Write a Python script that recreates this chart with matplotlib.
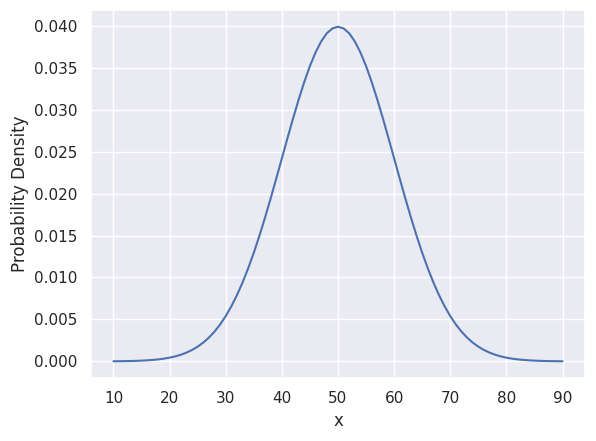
import matplotlib
matplotlib.use('Agg')
import matplotlib.pyplot as plt
import seaborn as sns

# values, one per unit of x (10 .. 90)
x = list(range(10, 91))
density = [
    0.0000134, 0.0000199, 0.0000292, 0.0000425, 0.0000612, 0.0000873, 0.000123, 0.000172,
    0.000238, 0.000327, 0.000443, 0.000595, 0.000792, 0.001042, 0.001358, 0.001753,
    0.002239, 0.002833, 0.003547, 0.004398, 0.005399, 0.006562, 0.007895, 0.009405,
    0.011092, 0.012952, 0.014973, 0.017137, 0.019419, 0.021785, 0.024197, 0.026609,
    0.028969, 0.031225, 0.033322, 0.035207, 0.036827, 0.038139, 0.039104, 0.039695,
    0.039894,
    0.039695, 0.039104, 0.038139, 0.036827, 0.035207, 0.033322, 0.031225, 0.028969,
    0.026609, 0.024197, 0.021785, 0.019419, 0.017137, 0.014973, 0.012952, 0.011092,
    0.009405, 0.007895, 0.006562, 0.005399, 0.004398, 0.003547, 0.002833, 0.002239,
    0.001753, 0.001358, 0.001042, 0.000792, 0.000595, 0.000443, 0.000327, 0.000238,
    0.000172, 0.000123, 0.0000873, 0.0000612, 0.0000425, 0.0000292, 0.0000199, 0.0000134,
]

sns.set_theme(style='darkgrid')

fig, ax = plt.subplots(figsize=(5.96, 4.41), dpi=100)
ax.plot(x, density)
ax.set_xlabel('x')
ax.set_ylabel('Probability Density')
ax.set_xticks(range(10, 91, 10))

plt.subplots_adjust(left=0.1527, right=0.9815, top=0.9773, bottom=0.1429)
plt.savefig('out.png')
